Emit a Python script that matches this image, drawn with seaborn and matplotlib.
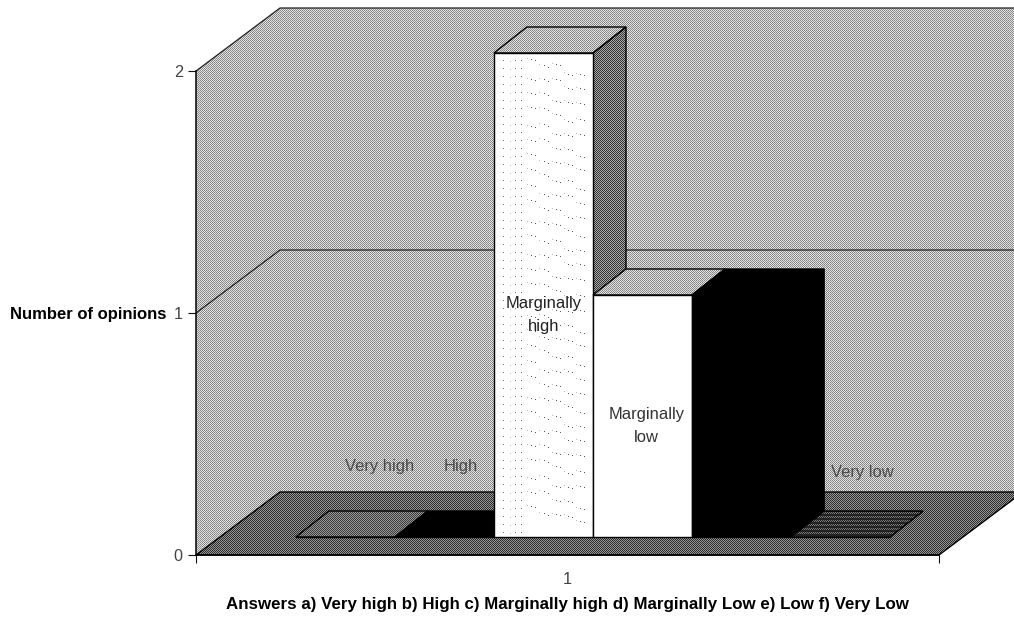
import numpy as np
import pandas as pd
import seaborn as sns
import matplotlib.pyplot as plt
from matplotlib.patches import Polygon
from matplotlib.transforms import IdentityTransform

# data
answers = ['Very high', 'High', 'Marginally high', 'Marginally low', 'Low', 'Very low']
opinions = [0, 0, 2, 1, 1, 0]
group = ['1'] * 6
bar_colors = ['#777777', '#000000', '#ffffff', '#ffffff', '#000000', '#444444']
y_ticks = [0, 1, 2]
y_title = 'Number of opinions'
x_title = 'Answers a) Very high b) High c) Marginally high d) Marginally Low e) Low f) Very Low'

W, H = 1014, 618
# front plane of the chart, pixels from top left
LEFT, RIGHT, Y0, Y2 = 196, 939, 555, 71
WALL_DX, WALL_DY = 84 / 743, 63 / 242     # depth of the walls in data units
BAR_DX, BAR_DY = 33 / 743, 26 / 242       # depth of the bars in data units
BAR_SHIFT_X, BAR_SHIFT_Y = 25.5, 18       # bars stand this far behind the front plane

sns.set_style('white')
plt.rcParams['font.family'] = ['Liberation Sans', 'DejaVu Sans']
plt.rcParams['font.size'] = 11.7


def tile(rows):
    # repeat a small pixel pattern over the whole picture
    rows = np.array(rows, dtype=float)
    ny = H // rows.shape[0] + 1
    nx = W // rows.shape[1] + 1
    return np.tile(rows, (ny, nx))[:H, :W]


WALL = tile([[130, 225], [225, 145]])
FLOOR = tile([[45, 150], [150, 45]])
SIDE = tile([[50, 170], [170, 50]])
VERY_HIGH = tile([[60, 150], [150, 60]])
STRIPES = tile([[35, 120], [120, 35], [25, 45], [45, 25]])
BLACK = tile([[0]])


def textured(ax, verts, pattern, z, edge=True):
    # fill a polygon with a pixel pattern
    poly = Polygon(verts, closed=True, transform=ax.transData, fill=False,
                   edgecolor='black', linewidth=1.0 if edge else 0, zorder=z + 0.1)
    xl, yl = ax.get_xlim(), ax.get_ylim()
    im = ax.imshow(pattern, cmap='gray', vmin=0, vmax=255, extent=(0, W, 0, H),
                   transform=IdentityTransform(), aspect='auto',
                   interpolation='nearest', zorder=z)
    ax.set_xlim(xl)
    ax.set_ylim(yl)
    im.set_clip_box(ax.figure.bbox)
    im.set_clip_path(poly)
    poly.set_clip_on(False)
    ax.add_patch(poly)
    return im


fig = plt.figure(figsize=(W / 100, H / 100), dpi=100)
frame = fig.add_axes([LEFT / W, (H - Y0) / H, (RIGHT - LEFT) / W, (Y0 - Y2) / H])
frame.set_xlim(-0.5, 0.5)
frame.set_ylim(0, 2)
frame.patch.set_visible(False)

# walls and floor
xa, xb = -0.5, 0.5
top = max(y_ticks)
textured(frame, [(xa + WALL_DX, WALL_DY), (xb + WALL_DX, WALL_DY),
                 (xb + WALL_DX, top + WALL_DY), (xa + WALL_DX, top + WALL_DY)], WALL, 1, edge=False)
textured(frame, [(xa, 0), (xa, top), (xa + WALL_DX, top + WALL_DY), (xa + WALL_DX, WALL_DY)], WALL, 1, edge=False)
textured(frame, [(xa, 0), (xb, 0), (xb + WALL_DX, WALL_DY), (xa + WALL_DX, WALL_DY)], FLOOR, 2)
for level in y_ticks[1:]:
    frame.plot([xa, xa + WALL_DX, xb + WALL_DX], [level, level + WALL_DY, level + WALL_DY],
               color='#222222', lw=0.9, clip_on=False, zorder=1.5)

# axis furniture
for side in ['top', 'right']:
    frame.spines[side].set_visible(False)
for side in ['left', 'bottom']:
    frame.spines[side].set_linewidth(1.1)
    frame.spines[side].set_color('black')
    frame.spines[side].set_zorder(3)
frame.set_yticks(y_ticks)
frame.set_xticks([xa, xb])
frame.set_xticklabels(['', ''])
frame.set_xticks([0], minor=True)
frame.set_xticklabels(group[:1], minor=True)
frame.tick_params(axis='both', which='major', left=True, bottom=True, length=6,
                  width=0.8, color='#111111', labelcolor='#444444', pad=3.5, labelsize=11.7)
frame.tick_params(axis='x', which='minor', bottom=True, length=0, labelcolor='#444444', pad=12, labelsize=11.7)
frame.set_ylabel(y_title, rotation=0, ha='right', va='center', fontweight='bold', fontsize=12, color='black')
frame.yaxis.set_label_coords((166 - LEFT) / (RIGHT - LEFT), 0.497)
frame.set_xlabel(x_title, fontweight='bold', fontsize=12.2, color='black')
frame.xaxis.set_label_coords(0.5, (Y0 - 604) / (Y0 - Y2), transform=frame.transAxes)
frame.xaxis.label.set_va('center')

# bars, on their own axes set back from the front plane
bar_ax = fig.add_axes([(LEFT + BAR_SHIFT_X) / W, (H - Y0 + BAR_SHIFT_Y) / H,
                       (RIGHT - LEFT) / W, (Y0 - Y2) / H], zorder=5)
df = pd.DataFrame({'group': group, 'answer': answers, 'opinions': opinions})
sns.barplot(data=df, x='group', y='opinions', hue='answer', hue_order=answers,
            palette=bar_colors, edgecolor='black', linewidth=1.0, legend=False,
            errorbar=None, ax=bar_ax)
bar_ax.set_ylim(0, 2)
bar_ax.set_xlim(-0.5, 0.5)
bar_ax.axis('off')

top_faces = [VERY_HIGH, BLACK, WALL, WALL, BLACK, STRIPES]
side_faces = [SIDE, BLACK, SIDE, SIDE, BLACK, SIDE]
for i, cont in enumerate(bar_ax.containers):
    bar = cont[0]
    x, w, h = bar.get_x(), bar.get_width(), bar.get_height()
    z = 10 + i * 2
    textured(bar_ax, [(x, h), (x + w, h), (x + w + BAR_DX, h + BAR_DY), (x + BAR_DX, h + BAR_DY)], top_faces[i], z)
    if h > 0:
        textured(bar_ax, [(x + w, 0), (x + w, h), (x + w + BAR_DX, h + BAR_DY), (x + w + BAR_DX, BAR_DY)], side_faces[i], z)
    bar.set_zorder(z + 0.5)
    bar.set_clip_on(False)

# dotted wave fill of the tall bar
dots = np.full((H, W), np.nan)
rect = bar_ax.containers[2][0]
(px0, py0), (px1, py1) = bar_ax.transData.transform([(rect.get_x(), 0), (rect.get_x() + rect.get_width(), 2)])
px0, px1 = int(px0), int(px1)
ytop, ybot = H - int(py1), H - int(py0)
wiggle = [0, 3, -2, 4, 1, -3, 2, -1, 3, 0, -2]
for yy in range(ytop + 6, ybot - 4, 8):
    for col in [10, 17, 22, 28]:
        dots[yy + col % 3, px0 + col] = 190 if col == 17 else 110
for n, yy in enumerate(range(ytop + 5, ybot - 16, 16)):
    for k, col in enumerate(range(34, 94, 4)):
        dots[yy + (col - 34) * 3 // 10 + wiggle[(n * 3 + k // 3) % 11], px0 + col] = 90 if k % 3 else 190
dot_im = bar_ax.imshow(dots, cmap='gray', vmin=0, vmax=255, extent=(0, W, 0, H),
                       transform=IdentityTransform(), aspect='auto',
                       interpolation='nearest', zorder=15.2)
bar_ax.set_xlim(-0.5, 0.5)
bar_ax.set_ylim(0, 2)
dot_im.set_clip_box(fig.bbox)
dot_im.set_clip_path(rect)

# labels inside the plot: shift in bar widths from the bar centre, height in data units
label_text = ['Very high', 'High', 'Marginally\nhigh', 'Marginally\nlow', '', 'Very low']
label_shift = [0.345, 0.17, 0.0, 0.04, 0, 0.22]
label_y = [0.293, 0.293, 0.917, 0.459, 0, 0.268]
label_col = ['#4a4a4a', '#4a4a4a', '#222222', '#333333', 'k', '#4a4a4a']
for i, cont in enumerate(bar_ax.containers):
    if label_text[i]:
        bar = cont[0]
        cx = bar.get_x() + bar.get_width() * (0.5 + label_shift[i])
        bar_ax.text(cx, label_y[i], label_text[i], ha='center', va='center', color=label_col[i],
                    fontsize=11.9, linespacing=1.6, zorder=40, clip_on=False)

fig.savefig('out.png', dpi=100)
